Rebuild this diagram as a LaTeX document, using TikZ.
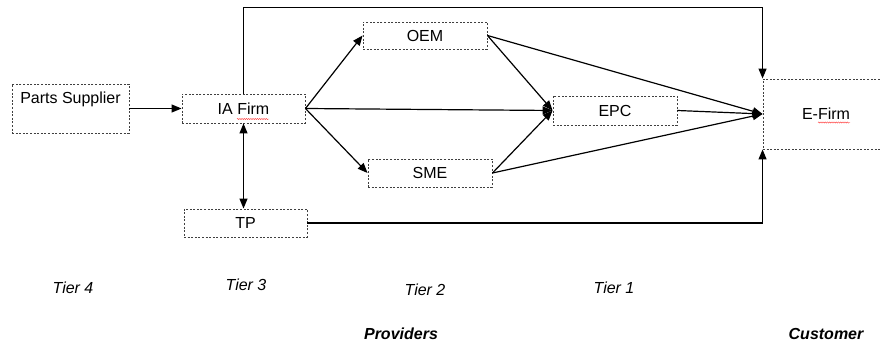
\documentclass[tikz,border=0pt]{standalone}
\usepackage{fontspec}
\setmainfont{Liberation Sans}
\usetikzlibrary{arrows.meta,decorations.pathmorphing}

\begin{document}
\begin{tikzpicture}[x=1pt,y=-1pt,
  box/.style={draw=black!75, dash pattern=on 2pt off 1.6pt, line width=0.9pt,
    inner sep=0pt, font=\fontsize{16}{18}\selectfont},
  link/.style={line width=1.2pt, -{Triangle[length=10pt,width=8pt]}},
  tier/.style={font=\fontsize{16}{18}\selectfont\itshape},
  group/.style={font=\fontsize{16}{18}\selectfont\bfseries\itshape},
  spell/.style={red!80, line width=0.4pt, decorate,
    decoration={snake, amplitude=0.6pt, segment length=2.2pt}}]

% canvas
\fill[white] (0,0) rectangle (880,344);
\clip (0,0) rectangle (880,344);

% firms
\node[box, minimum width=117pt, minimum height=49pt] (parts) at (70.5,108.5) {};
\node[font=\fontsize{16}{18}\selectfont] (partslbl) at (70.5,99) {Parts Supplier};
\node[box, minimum width=123pt, minimum height=29pt] (ia)  at (243.5,108.5) {IA Firm};
\node[box, minimum width=123pt, minimum height=28pt] (tp)  at (245.5,223) {TP};
\node[box, minimum width=124pt, minimum height=27pt] (oem) at (425,35.5) {OEM};
\node[box, minimum width=124pt, minimum height=28pt] (sme) at (430,173) {SME};
\node[box, minimum width=124pt, minimum height=29pt] (epc) at (615,110.5) {EPC};
\node[box, minimum width=126pt, minimum height=70pt] (efirm) at (826,114) {E-Firm};

% spell-check underlines
\draw[spell] (237,119) -- (269,119);
\draw[spell] (818,122.5) -- (850,122.5);

% flows
\draw[link] (parts.east) -- (ia.west);
\draw[line width=1.2pt, {Triangle[length=10pt,width=8pt]}-{Triangle[length=10pt,width=8pt]}]
  (ia.south) -- (ia.south |- tp.north);
\draw[link] (ia.east) -- (oem.west);
\draw[link] (ia.east) -- (sme.west);
\draw[link] (ia.east) -- (epc.west);
\draw[link] (oem.east) -- (epc.west);
\draw[link] (sme.east) -- (epc.west);
\draw[link] (oem.east) -- (efirm.west);
\draw[link] (sme.east) -- (efirm.west);
\draw[link] (epc.east) -- (efirm.west);
\draw[link] (ia.north) -- ++(0,-86) -| (efirm.north west);
\draw[link] (tp.east) -| (efirm.south west);

% tiers
\node[tier] (t4) at (73,288) {Tier 4};
\node[tier] (t3) at (246,285) {Tier 3};
\node[tier] (t2) at (425,290) {Tier 2};
\node[tier] (t1) at (614,288) {Tier 1};
\node[group] (prov) at (401,334) {Providers};
\node[group] (cust) at (826,334) {Customer};
\end{tikzpicture}
\end{document}
